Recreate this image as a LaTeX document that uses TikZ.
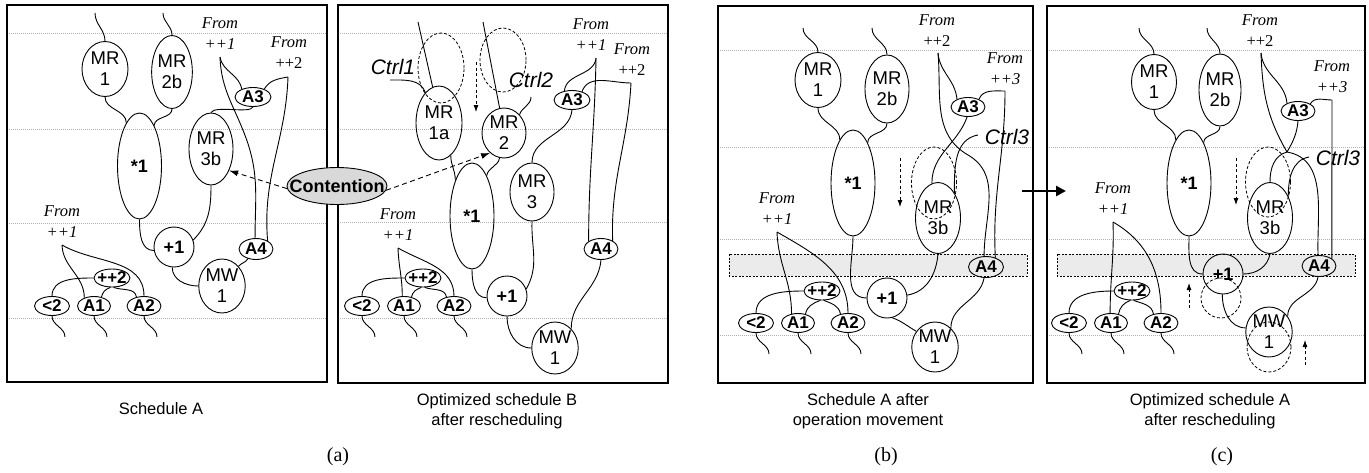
\documentclass[tikz,border=0pt]{standalone}
\usepackage{fontspec}
\setmainfont{Liberation Serif}
\setsansfont{Liberation Sans}
\usetikzlibrary{arrows.meta,shapes.geometric}
\tikzset{
  wire/.style={line width=0.9pt},
  sz/.style 2 args={minimum width=#1pt, minimum height=#2pt},
  mr/.style={ellipse, draw, line width=0.9pt, inner sep=0pt, align=center, font=\sffamily\fontsize{18.5}{21}\selectfont},
  op/.style={ellipse, draw, line width=0.9pt, inner sep=0pt, font=\sffamily\bfseries\fontsize{17}{18}\selectfont},
  big/.style={font=\sffamily\bfseries\fontsize{18}{18}\selectfont},
  ghost/.style={ellipse, draw, line width=0.8pt, inner sep=0pt, dash pattern=on 3pt off 2pt},
  fromtxt/.style={align=center, inner sep=0pt, font=\itshape\fontsize{16.5}{21}\selectfont},
  ctrl/.style={inner sep=0pt, font=\sffamily\itshape\fontsize{21}{21}\selectfont},
  gridline/.style={gray!60, line width=0.7pt, dash pattern=on 0.8pt off 1.2pt},
  bandbox/.style={fill=gray!16, draw=black, line width=0.7pt, dash pattern=on 2pt off 1.5pt},
  framebox/.style={line width=2pt},
  darr/.style={line width=0.8pt, dash pattern=on 3pt off 2.5pt, -{Latex[length=7pt,width=5pt]}},
  carr/.style={line width=0.9pt, dash pattern=on 5pt off 3.5pt, -{Latex[length=9pt,width=6pt]}},
  captext/.style={align=center, font=\sffamily\fontsize{16.5}{20}\selectfont},
  sublab/.style={font=\fontsize{20}{20}\selectfont},
  contshape/.style={ellipse, draw, fill=gray!30, line width=0.9pt, inner sep=0pt, minimum width=100pt, minimum height=37pt},
  contlab/.style={inner sep=0pt, font=\sffamily\bfseries\fontsize{18}{18}\selectfont},
}
\newcommand\leftgrp[8]{%
  \begin{scope}[shift={(#2,#3)}]
    \node[op,sz={36}{18},inner xsep=-2pt] (#1pp2) at (112+#7,-278+#8) {++2};
    \node[op,sz={35}{19}] (#1lt2) at (52,-306) {<2};
    \node[op,sz={33}{19}] (#1a1) at (94,-306) {A1};
    \node[op,sz={34}{19}] (#1a2) at (144,-306) {A2};
    \coordinate (#1e1) at (65,-337);
    \coordinate (#1e2) at (107,-337);
    \coordinate (#1e3) at (157,-337);
  \end{scope}
  \coordinate (#1f3) at (#4,-#5);
  \node[fromtxt] (#1ft) at (#4,-#5+23) {From\\++1};
  \draw[wire] (#1f3) to[out=-88,in=90] (#1a1.#6);
  \draw[wire] (#1f3) to[out=-30,in=90] (#1a2.north);
  \draw[wire] (#1pp2.west) to[out=180,in=90] (#1lt2.north);
  \draw[wire] (#1pp2.-100) to[out=200,in=80] (#1a1.50);
  \draw[wire] (#1pp2.-80) to[out=-20,in=100] (#1a2.130);
  \draw[wire] (#1lt2.south) to[out=-90,in=90] (#1e1);
  \draw[wire] (#1a1.south) to[out=-90,in=90] (#1e2);
  \draw[wire] (#1a2.south) to[out=-90,in=90] (#1e3);
}
\begin{document}
\begin{tikzpicture}[x=1pt,y=1pt]
\useasboundingbox (0,0) rectangle (1369,-472);
% grid lines and bands
\foreach \y in {33,129,223,318} \draw[gridline] (7,-\y) -- (327,-\y);
\foreach \y in {33,129,222,318} \draw[gridline] (338,-\y) -- (668,-\y);
\foreach \y in {50,147,239,335} \draw[gridline] (718,-\y) -- (1033,-\y);
\foreach \y in {50,147,239,335} \draw[gridline] (1047,-\y) -- (1365,-\y);
\draw[bandbox] (729,-254) rectangle (1027,-276);
\draw[bandbox] (1057,-254) rectangle (1355,-276);
% frames
\draw[framebox] (7,-5) rectangle (327,-382);
\draw[framebox] (338,-5) rectangle (668,-383);
\draw[framebox] (718,-6) rectangle (1033,-383);
\draw[framebox] (1047,-6) rectangle (1365,-383);

% ================= Panel 1 =================
\node[mr,sz={46}{55}] (p1mr1) at (105,-69) {MR\\1};
\node[mr,sz={40}{73}] (p1mr2) at (172,-72) {MR\\2b};
\node[op,big,sz={44}{106}] (p1mul) at (139.5,-166) {*1};
\node[mr,sz={44}{72}] (p1mr3) at (211,-149) {MR\\3b};
\node[op,sz={36}{19}] (p1a3) at (253,-97) {A3};
\node[op,big,circle,minimum size=40pt] (p1add) at (174,-247) {+1};
\node[op,sz={34}{21}] (p1a4) at (256,-249) {A4};
\node[mr,sz={46}{54}] (p1mw) at (222,-286) {MW\\1};
\node[fromtxt] (p1t1) at (220,-34) {From\\++1};
\node[fromtxt] (p1t2) at (289,-53) {From\\\textup{++2}};
\coordinate (p1s1) at (95,-13);
\coordinate (p1s2) at (163,-13);
\coordinate (p1f1) at (220,-57);
\coordinate (p1f2) at (288,-77);
\draw[wire] (p1s1) to[out=-90,in=90] (p1mr1.north);
\draw[wire] (p1s2) to[out=-90,in=90] (p1mr2.north);
\draw[wire] (p1mr1.south) to[out=-90,in=90] (p1mul.107);
\draw[wire] (p1mr2.south) to[out=-90,in=90] (p1mul.70);
\draw[wire] (p1f1) to[out=-80,in=100] (p1a3.145);
\draw[wire] (p1f1) to[out=-88,in=110] (246,-138) to[out=-70,in=90] (p1a4.95);
\draw[wire] (p1f2) to[out=190,in=60] (p1a3.35);
\draw[wire] (p1f2) to[out=-92,in=95] (p1a4.35);
\draw[wire] (p1a3.south) .. controls (250,-114) and (215,-105) .. (p1mr3.north);
\draw[wire] (p1mr3.south) to[out=-90,in=45] (p1add.20);
\draw[wire] (p1mul.south) to[out=-90,in=180] (p1add.190);
\draw[wire] (p1add.-95) to[out=-90,in=180] (p1mw.180);
\draw[wire] (p1a4.-130) to[out=-120,in=50] (p1mw.50);
\leftgrp{p1}{0}{0}{62}{245}{140}{0}{0}

% ================= Panel 2 =================
\node[ghost,sz={46}{70}] (p2c1) at (441,-68) {};
\node[mr,sz={46}{74}] (p2mr1) at (439,-123) {MR\\1a};
\node[ghost,sz={46}{64}] (p2c2) at (503,-60) {};
\node[mr,sz={44}{50}] (p2mr2) at (504,-133) {MR\\2};
\node[mr,sz={44}{58}] (p2mr3) at (532,-192) {MR\\3};
\node[op,sz={36}{19}] (p2a3) at (572,-100) {A3};
\node[op,big,sz={44}{106}] (p2mul) at (472,-216) {*1};
\node[op,big,circle,minimum size=40pt] (p2add) at (507,-296) {+1};
\node[op,sz={34}{21}] (p2a4) at (601,-249) {A4};
\node[mr,sz={46}{52}] (p2mw) at (555,-348) {MW\\1};
\node[ctrl] (p2ct1) at (393,-67) {Ctrl1};
\node[ctrl] (p2ct2) at (531,-80) {Ctrl2};
\node[fromtxt] (p2t1) at (591,-35) {From\\++1};
\node[fromtxt] (p2t2) at (632,-60) {From\\\textup{++2}};
\coordinate (p2s1) at (418,-22);
\coordinate (p2s2) at (483,-22);
\coordinate (p2k1) at (390,-80);
\coordinate (p2k2) at (531,-97);
\coordinate (p2f1) at (596,-58);
\coordinate (p2f2) at (631,-83);
\coordinate (p2d1) at (476,-62);
\coordinate (p2d2) at (476,-112);
\draw[wire] (p2s1) -- (p2mr1.100);
\draw[wire] (p2s2) -- (p2mr2.100);
\draw[wire] (p2k1) to[out=0,in=110] (p2mr1.114);
\draw[wire] (p2k2) to[out=-90,in=70] (p2mr2.50);
\draw[darr] (p2d1) -- (p2d2);
\draw[wire] (p2f1) to[out=-95,in=85] (p2a3.130);
\draw[wire] (p2f1) to[out=-91,in=90] (p2a4.148);
\draw[wire] (p2f2) to[out=180,in=70] (p2a3.40);
\draw[wire] (p2f2) to[out=-93,in=92] (p2a4.35);
\draw[wire] (p2a3.south) to[out=-95,in=90] (p2mr3.north);
\draw[wire] (p2mr1.-70) to[out=-90,in=90] (p2mul.115);
\draw[wire] (p2mr2.-100) to[out=-100,in=80] (p2mul.70);
\draw[wire] (p2mul.south) to[out=-90,in=180] (p2add.185);
\draw[wire] (p2mr3.south) to[out=-92,in=60] (p2add.20);
\draw[wire] (p2add.-90) to[out=-90,in=180] (p2mw.west);
\draw[wire] (p2a4.south) to[out=-95,in=90] (p2mw.50);
\leftgrp{p2}{310}{0}{398}{248}{100}{1}{0}

% ================= Panel 3 =================
\node[mr,sz={46}{55}] (p3mr1) at (818,-80) {MR\\1};
\node[mr,sz={44}{68}] (p3mr2) at (887,-89) {MR\\2b};
\node[op,big,sz={44}{106}] (p3mul) at (853,-183) {*1};
\node[op,sz={34}{19}] (p3a3) at (968,-107) {A3};
\node[ghost,sz={45}{72}] (p3c3) at (934,-183) {};
\node[mr,sz={45}{71}] (p3mr3) at (938,-218) {MR\\3b};
\node[op,big,circle,minimum size=40pt] (p3add) at (887,-298) {+1};
\node[op,sz={35}{21}] (p3a4) at (986,-267) {A4};
\node[mr,sz={45}{50}] (p3mw) at (935,-347) {MW\\1};
\node[ctrl] (p3ct) at (1007,-137) {Ctrl3};
\node[fromtxt] (p3t1) at (937,-31) {From\\\textup{++2}};
\node[fromtxt] (p3t2) at (1005,-69) {From\\++3};
\coordinate (p3s1) at (803,-28);
\coordinate (p3s2) at (872,-28);
\coordinate (p3f1) at (938,-53);
\coordinate (p3f2) at (1005,-91);
\coordinate (p3k) at (978,-135);
\coordinate (p3d1) at (900,-158);
\coordinate (p3d2) at (900,-207);
\draw[wire] (p3s1) to[out=-90,in=90] (p3mr1.north);
\draw[wire] (p3s2) to[out=-90,in=90] (p3mr2.north);
\draw[wire] (p3mr1.south) to[out=-90,in=90] (p3mul.107);
\draw[wire] (p3mr2.south) to[out=-90,in=90] (p3mul.70);
\draw[wire] (p3f1) to[out=-85,in=95] (p3a3.145);
\draw[wire] (p3f1) to[out=-85,in=150] (968,-155) to[out=-30,in=90] (p3a4.100);
\draw[wire] (p3f2) to[out=180,in=70] (p3a3.35);
\draw[wire] (p3f2) to[out=-90,in=93] (p3a4.45);
\draw[wire] (p3a3.-95) to[out=-110,in=90] (p3mr3.100);
\draw[wire] (p3k) to[out=190,in=90] (p3mr3.57);
\draw[darr] (p3d1) -- (p3d2);
\draw[wire] (p3mul.south) to[out=-90,in=180] (p3add.west);
\draw[wire] (p3mr3.south) to[out=-95,in=10] (p3add.8);
\draw[wire] (p3add.-75) to[out=-20,in=150] (p3mw.140);
\draw[wire] (p3a4.-100) to[out=-100,in=90] (p3mw.50);
\leftgrp{p3}{704}{-17}{777}{232}{125}{6}{4}

% ================= Panel 4 =================
\node[mr,sz={45}{55}] (p4mr1) at (1154,-82) {MR\\1};
\node[mr,sz={42}{72}] (p4mr2) at (1220,-90) {MR\\2b};
\node[op,big,sz={44}{106}] (p4mul) at (1189,-183) {*1};
\node[op,sz={34}{19}] (p4a3) at (1298,-111) {A3};
\node[ghost,sz={45}{70}] (p4c3) at (1268,-182) {};
\node[mr,sz={45}{71}] (p4mr3) at (1270,-218) {MR\\3b};
\node[ghost,circle,minimum size=40pt] (p4oadd) at (1221,-298) {};
\node[op,big,circle,minimum size=40pt] (p4add) at (1223,-274) {+1};
\node[op,sz={34}{21}] (p4a4) at (1319,-266) {A4};
\node[ghost,sz={44}{50}] (p4omw) at (1269,-347) {};
\node[mr,sz={44}{50}] (p4mw) at (1269,-332) {MW\\1};
\node[ctrl] (p4ct) at (1338,-158) {Ctrl3};
\node[fromtxt] (p4t1) at (1260,-31) {From\\\textup{++2}};
\node[fromtxt] (p4t2) at (1332,-77) {From\\++3};
\coordinate (p4s1) at (1139,-28);
\coordinate (p4s2) at (1207,-28);
\coordinate (p4f1) at (1261,-53);
\coordinate (p4f2) at (1332,-100);
\coordinate (p4j) at (1287,-152);
\coordinate (p4k) at (1309,-157);
\coordinate (p4d1) at (1236,-158);
\coordinate (p4d2) at (1236,-205);
\coordinate (p4u1) at (1189,-308);
\coordinate (p4u2) at (1189,-283);
\coordinate (p4v1) at (1305,-365);
\coordinate (p4v2) at (1305,-340);
\draw[wire] (p4s1) to[out=-90,in=90] (p4mr1.north);
\draw[wire] (p4s2) to[out=-90,in=90] (p4mr2.north);
\draw[wire] (p4mr1.south) to[out=-90,in=90] (p4mul.107);
\draw[wire] (p4mr2.south) to[out=-90,in=90] (p4mul.70);
\draw[wire] (p4f1) to[out=-85,in=95] (p4a3.145);
\draw[wire] (p4f1) to[out=-88,in=120] (p4j);
\draw[wire] (p4a3.south) to[out=-95,in=60] (p4j);
\draw[wire] (p4j) to[out=-165,in=90] (p4mr3.north);
\draw[wire] (p4j) to[out=-10,in=92] (p4a4.95);
\draw[wire] (p4k) to[out=190,in=90] (p4mr3.50);
\draw[wire] (p4f2) to[out=180,in=60] (p4a3.30);
\draw[wire] (p4f2) -- (p4a4.30);
\draw[darr] (p4d1) -- (p4d2);
\draw[darr] (p4u1) -- (p4u2);
\draw[darr] (p4v1) -- (p4v2);
\draw[wire] (p4mul.south) to[out=-90,in=180] (p4add.west);
\draw[wire] (p4mr3.south) to[out=-100,in=0] (p4add.east);
\draw[wire] (p4add.-92) to[out=-90,in=180] (p4mw.170);
\draw[wire] (p4a4.-95) to[out=-100,in=90] (p4mw.40);
\leftgrp{p4}{1017}{-17}{1113}{222}{95}{3}{4}

% arrow between (b) and (c)
\coordinate (arS) at (1022,-191);
\coordinate (arE) at (1066,-191);
\draw[line width=2.5pt,-{Triangle[length=10pt,width=10pt]}] (arS) -- (arE);

% contention
\node[contshape] (cont) at (337,-186) {};
\node[contlab] (contl) at (cont) {Contention};
\draw[carr] (cont.183) -- (p1mr3.-50);
\draw[carr] (cont.-5) -- (p2mr2.-125);

% captions
\node[captext] (capA) at (161,-409) {Schedule A};
\node[captext] (capB) at (497,-411) {Optimized schedule B\\after rescheduling};
\node[captext] (capC) at (868,-411) {Schedule A after\\operation movement};
\node[captext] (capD) at (1210,-411) {Optimized schedule A\\after rescheduling};
\node[sublab] (suba) at (338,-457) {(a)};
\node[sublab] (subb) at (886,-457) {(b)};
\node[sublab] (subc) at (1222,-457) {(c)};
\end{tikzpicture}
\end{document}
